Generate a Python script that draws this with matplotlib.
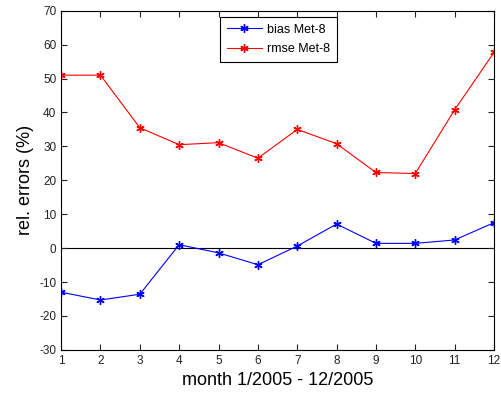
import numpy as np
import matplotlib.pyplot as plt

plt.rcParams['font.family'] = ['Liberation Sans', 'DejaVu Sans']
plt.rcParams['axes.unicode_minus'] = False

months = np.arange(1, 13)
bias = [-13.0, -15.3, -13.6, 1.0, -1.4, -4.9, 0.6, 7.1, 1.4, 1.4, 2.4, 7.5]
rmse = [51.0, 51.0, 35.5, 30.5, 31.1, 26.5, 35.0, 30.8, 22.3, 22.0, 40.8, 57.7]

fig = plt.figure(figsize=(5.01, 3.98), dpi=100)
ax = fig.add_axes([0.122, 0.121, 0.864, 0.852])

ax.axhline(0, color='black', lw=0.8, zorder=1)
star = (6, 2, 0)  # matlab-like asterisk
ax.plot(months, bias, color='blue', lw=0.8, marker=star, ms=6, mew=1.0, label='bias Met-8')
ax.plot(months, rmse, color='red', lw=0.8, marker=star, ms=6, mew=1.0, label='rmse Met-8')

ax.set_xlim(1, 12)
ax.set_ylim(-30, 70)
ax.set_xticks(months)
ax.set_yticks(np.arange(-30, 71, 10))
ax.tick_params(direction='in', top=True, right=True, labelsize=8.5, length=4, colors='#222222')
for s in ax.spines.values():
    s.set_linewidth(0.8)

ax.set_xlabel('month 1/2005 - 12/2005', fontsize=13)
ax.set_ylabel('rel. errors (%)', fontsize=13)

leg = ax.legend(loc='upper left', bbox_to_anchor=(0.367, 0.982), fontsize=9,
                fancybox=False, edgecolor='black', framealpha=1, borderaxespad=0,
                handlelength=2.8, handletextpad=0.4, borderpad=0.55, labelspacing=0.6)
leg.get_frame().set_linewidth(0.8)

fig.savefig('out.png', dpi=100)
